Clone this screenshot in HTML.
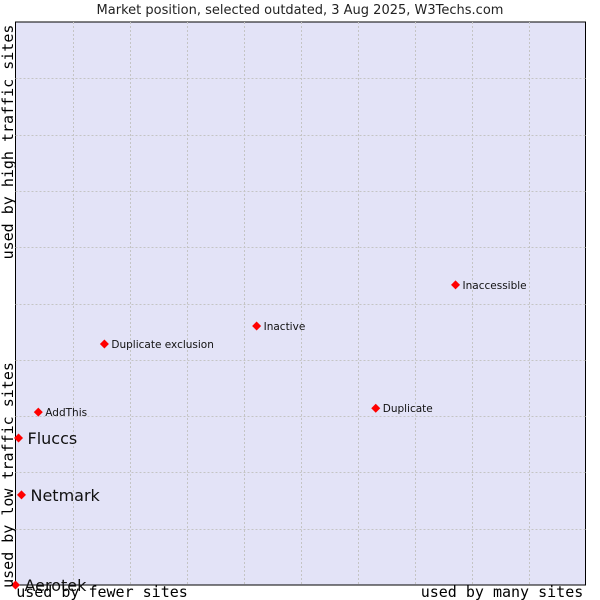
<!DOCTYPE html>
<html><head><meta charset="utf-8"><style>
body{margin:0;background:#fff;width:600px;height:600px;overflow:hidden}
svg{display:block}
</style></head><body>
<svg width="600" height="600" xmlns="http://www.w3.org/2000/svg">
<text x="300" y="14" text-anchor="middle" font-family="'DejaVu Sans',sans-serif" font-size="13" fill="#222">Market position, selected outdated, 3 Aug 2025, W3Techs.com</text>
<rect x="15.5" y="22" width="570" height="563" fill="#e3e3f7" stroke="#000"/>
<g id="grid"></g>
<g id="marks"></g>
<text x="102" y="597" text-anchor="middle" font-family="'DejaVu Sans Mono',monospace" font-size="15" fill="#000">used by fewer sites</text>
<text x="502" y="597" text-anchor="middle" font-family="'DejaVu Sans Mono',monospace" font-size="15" fill="#000">used by many sites</text>
<text transform="translate(13,475) rotate(-90)" text-anchor="middle" font-family="'DejaVu Sans Mono',monospace" font-size="15" fill="#000">used by low traffic sites</text>
<text transform="translate(13,142) rotate(-90)" text-anchor="middle" font-family="'DejaVu Sans Mono',monospace" font-size="15" fill="#000">used by high traffic sites</text>
</svg>
<script>
const names=["Aerotek","Netmark","Fluccs","AddThis","Duplicate exclusion","Inactive","Duplicate","Inaccessible"];
const xValues=[0,1.05,0.53,4.0,15.6,42.3,63.2,77.2];
const yValues=[0,16.0,26.1,30.7,42.8,46.0,31.4,53.3];
const bigLabel=[true,true,true,false,false,false,false,false];
const X0=15.5,W=570,Y0=585,H=563;
const sx=v=>X0+v/100*W, sy=v=>Y0-v/100*H;
const NS="http://www.w3.org/2000/svg";
const grid=document.getElementById('grid');
for(let i=1;i<10;i++){
 const lv=document.createElementNS(NS,'line');
 
 
 const x=Math.round(sx(i*10))+0.5;
 lv.setAttribute('x1',x);lv.setAttribute('x2',x);lv.setAttribute('y1',22);lv.setAttribute('y2',585);
 lv.setAttribute('stroke','#c4c4c4');lv.setAttribute('stroke-dasharray','2,2');grid.appendChild(lv);
 const lh=document.createElementNS(NS,'line');
 
 
 const y=Math.round(sy(i*10))+0.5;
 lh.setAttribute('y1',y);lh.setAttribute('y2',y);lh.setAttribute('x1',15.5);lh.setAttribute('x2',585.5);
 lh.setAttribute('stroke','#c4c4c4');lh.setAttribute('stroke-dasharray','2,2');grid.appendChild(lh);
}
const marks=document.getElementById('marks');
names.forEach((n,i)=>{
 const x=sx(xValues[i]),y=sy(yValues[i]);
 const d=document.createElementNS(NS,'path');
 
 
 d.setAttribute('d',`M${x} ${y-4.5}L${x+4.5} ${y}L${x} ${y+4.5}L${x-4.5} ${y}Z`);
 d.setAttribute('fill','#f00');marks.appendChild(d);
 const t=document.createElementNS(NS,'text');
 
 
 t.setAttribute('x',x+(bigLabel[i]?9:7));t.setAttribute('y',y+(bigLabel[i]?6:4));
 t.setAttribute('font-family',"'DejaVu Sans',sans-serif");
 t.setAttribute('font-size',bigLabel[i]?16:10.5);t.setAttribute('fill','#111');
 t.textContent=n;marks.appendChild(t);
});
</script>
</body></html>
